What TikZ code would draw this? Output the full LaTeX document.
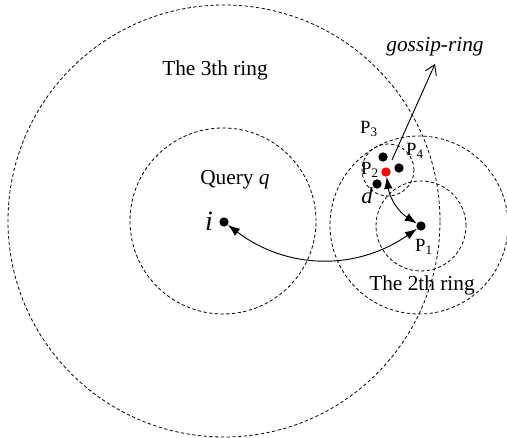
\documentclass[tikz,border=0pt]{standalone}
\usepackage{fontspec}
\setmainfont{Liberation Serif}
\usepackage{tikz}
\usetikzlibrary{positioning,calc,arrows.meta}

\tikzset{
    ring/.style={dashed, dash pattern=on 2.5pt off 1.8pt, line width=0.6pt},
    peer/.style={circle, fill=black, inner sep=0pt, minimum size=7},
    lbl/.style={font=\fontsize{16}{19}\selectfont},
    plbl/.style={font=\fontsize{14}{17}\selectfont, inner sep=0pt},
    link/.style={{Latex[length=9pt,width=6.5pt]}-{Latex[length=9pt,width=6.5pt]}, line width=0.7pt}
}

\begin{document}
\begin{tikzpicture}[x=0.75pt, y=0.75pt]
    \useasboundingbox (0,0) rectangle (507,438);

    % Rings
    \draw[ring] (224,217) circle[radius=216];
    \draw[ring] (223,217) circle[radius=93];
    \draw[ring] (419,213) circle[radius=89];
    \draw[ring] (421,212) circle[radius=45];
    \draw[ring] (388,268) circle[radius=26];

    % Peers
    \node[peer] (i) at (224,216) {};
    \node[peer] (p1) at (421,212) {};
    \node[peer, fill=red] (p2) at (386,266) {};
    \node[peer] (p3) at (383,281) {};
    \node[peer] (p4) at (399,270) {};
    \node[peer] (d) at (377,254) {};

    % Labels
    \node[lbl] (ring3) at (215,368) {The 3th ring};
    \node[lbl] (ring2) at (422,153) {The 2th ring};
    \node[lbl] (query) at (235,258) {Query \textit{q}};
    \node[font=\fontsize{21}{25}\selectfont\itshape] (ilbl) at (209,217) {i};
    \node[plbl] (p1lbl) at (424,191) {P\textsubscript{1}};
    \node[plbl] (p2lbl) at (370,268) {P\textsubscript{2}};
    \node[plbl] (p3lbl) at (369,309) {P\textsubscript{3}};
    \node[plbl] (p4lbl) at (415,287) {P\textsubscript{4}};
    \node[font=\fontsize{17}{20}\selectfont\itshape] (dlbl) at (367,242) {d};
    \node[font=\fontsize{16}{19}\selectfont\itshape] (gossip) at (435,391) {gossip-ring};

    % Connectors
    \coordinate (gstart) at (392,278);
    \coordinate (gend) at (435,374);
    \draw[link] (i) to[bend right=36] (p1);
    \draw[link] (p2) to[bend right=25] (p1);
    \draw[-{Straight Barb[length=7pt,width=9pt]}, line width=0.7pt] (gstart) -- (gend);
\end{tikzpicture}
\end{document}
